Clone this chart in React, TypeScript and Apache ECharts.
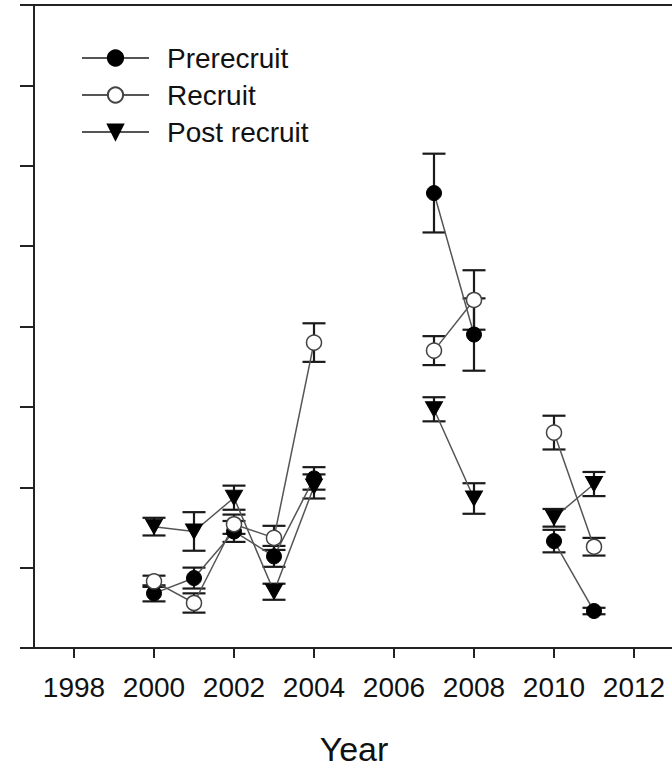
import React, { useEffect, useRef } from "react";
import * as echarts from "echarts";

const years = [2000, 2001, 2002, 2003, 2004, 2005, 2006, 2007, 2008, 2009, 2010, 2011];
const prerecruit = [0.68, 0.87, 1.45, 1.14, 2.11, null, null, 5.66, 3.90, null, 1.33, 0.46];
const prerecruitErr = [0.10, 0.13, 0.13, 0.13, 0.14, null, null, 0.49, 0.45, null, 0.14, 0.04];
const recruit = [0.83, 0.56, 1.54, 1.37, 3.80, null, null, 3.70, 4.33, null, 2.68, 1.26];
const recruitErr = [0.07, 0.12, 0.12, 0.15, 0.24, null, null, 0.18, 0.37, null, 0.21, 0.11];
const postRecruit = [1.51, 1.45, 1.87, 0.70, 2.01, null, null, 2.97, 1.86, null, 1.62, 2.04];
const postRecruitErr = [0.11, 0.24, 0.15, 0.10, 0.15, null, null, 0.15, 0.19, null, 0.11, 0.15];
const xTicks = [1998, 2000, 2002, 2004, 2006, 2008, 2010, 2012];
const seriesNames = ["Prerecruit", "Recruit", "Post recruit"];

const FONT = "'Liberation Sans', Arial, Helvetica, sans-serif";

function lineData(vals: (number | null)[]) {
  return years.map((y, i) => [y, vals[i] === null ? "-" : vals[i]]);
}
function errData(vals: (number | null)[], errs: (number | null)[]) {
  const out: number[][] = [];
  years.forEach((y, i) => {
    const v = vals[i];
    const e = errs[i];
    if (v !== null && e !== null) out.push([y, v - e, v + e]);
  });
  return out;
}

function errorSeries(vals: (number | null)[], errs: (number | null)[]) {
  return {
    type: "custom",
    z: 1,
    silent: true,
    data: errData(vals, errs),
    encode: { x: 0, y: [1, 2] },
    renderItem: (params: any, api: any) => {
      const x = api.value(0);
      const pLo = api.coord([x, api.value(1)]);
      const pHi = api.coord([x, api.value(2)]);
      const hw = 11.5;
      const style = { stroke: "#1a1a1a", lineWidth: 2.2, fill: "none" };
      return {
        type: "group",
        children: [
          { type: "line", shape: { x1: pLo[0], y1: pLo[1], x2: pHi[0], y2: pHi[1] }, style },
          { type: "line", shape: { x1: pLo[0] - hw, y1: pLo[1], x2: pLo[0] + hw, y2: pLo[1] }, style },
          { type: "line", shape: { x1: pHi[0] - hw, y1: pHi[1], x2: pHi[0] + hw, y2: pHi[1] }, style },
        ],
      };
    },
  };
}

export default function App() {
  const ref = useRef<HTMLDivElement>(null);
  useEffect(() => {
    if (!ref.current) return;
    const chart = echarts.init(ref.current, null, { renderer: "svg" });
    const lineStyle = { color: "#555", width: 1.5 };
    chart.setOption({
      animation: false,
      backgroundColor: "#fff",
      textStyle: { fontFamily: FONT },
      grid: { left: 34, top: 5, width: 640, height: 643, containLabel: false, outerBoundsMode: "none" },
      legend: {
        data: seriesNames,
        orient: "vertical",
        left: 81,
        top: 43,
        padding: 0,
        itemWidth: 67,
        itemHeight: 19,
        itemGap: 7,
        selectedMode: false,
        textStyle: { fontFamily: FONT, fontSize: 28, color: "#111", lineHeight: 30, padding: [0, 0, 0, 13] },
      },
      xAxis: [
        {
          type: "value",
          min: 1997,
          max: 2013,
          name: "Year",
          nameLocation: "middle",
          nameGap: 84,
          nameTextStyle: { fontFamily: FONT, fontSize: 34, color: "#111" },
          axisLine: { show: true, lineStyle: { color: "#222", width: 2 } },
          axisTick: { show: true, inside: false, length: 10, lineStyle: { color: "#222", width: 2 }, customValues: xTicks },
          axisLabel: { show: true, margin: 25, fontFamily: FONT, fontSize: 28, color: "#111", customValues: xTicks, formatter: (v: number) => String(v) },
          splitLine: { show: false },
        },
        {
          type: "value",
          position: "top",
          min: 1997,
          max: 2013,
          axisLine: { show: true, lineStyle: { color: "#222", width: 2 } },
          axisTick: { show: false },
          axisLabel: { show: false },
          splitLine: { show: false },
        },
      ],
      yAxis: {
        type: "value",
        min: 0,
        max: 8,
        interval: 1,
        axisLine: { show: true, lineStyle: { color: "#222", width: 2 } },
        axisTick: { show: true, inside: false, length: 14, lineStyle: { color: "#222", width: 2 } },
        axisLabel: { show: false },
        splitLine: { show: false },
      },
      series: [
        errorSeries(prerecruit, prerecruitErr),
        errorSeries(recruit, recruitErr),
        errorSeries(postRecruit, postRecruitErr),
        {
          name: "Prerecruit",
          type: "line",
          z: 3,
          data: lineData(prerecruit),
          symbol: "circle",
          symbolSize: 15,
          showAllSymbol: true,
          lineStyle,
          itemStyle: { color: "#000", borderColor: "#000", borderWidth: 1 },
        },
        {
          name: "Recruit",
          type: "line",
          z: 3,
          data: lineData(recruit),
          symbol: "circle",
          symbolSize: 15,
          showAllSymbol: true,
          lineStyle,
          itemStyle: { color: "#fff", borderColor: "#444", borderWidth: 1.5 },
        },
        {
          name: "Post recruit",
          type: "line",
          z: 3,
          data: lineData(postRecruit),
          symbol: "triangle",
          symbolRotate: 180,
          symbolSize: [17, 15],
          showAllSymbol: true,
          lineStyle,
          itemStyle: { color: "#000", borderColor: "#000", borderWidth: 1 },
        },
      ],
    });
    return () => chart.dispose();
  }, []);
  return <div ref={ref} style={{ position: "fixed", left: 0, top: 0, width: 672, height: 768 }} />;
}
